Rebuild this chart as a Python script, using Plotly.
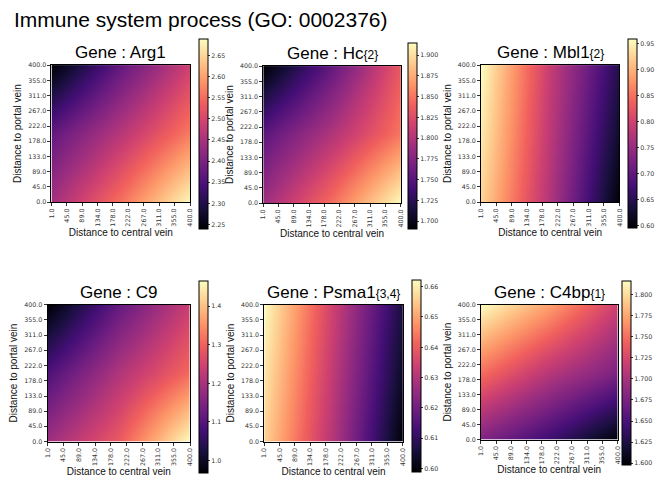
import plotly.graph_objects as go

W, H = 668, 483

# ---- data ----
x_grid = [1, 200, 400]          # distance to central vein
y_grid = [0, 200, 400]          # distance to portal vein
x_ticks = [1, 45, 89, 134, 178, 222, 267, 311, 355, 400]
y_ticks = [0, 45, 89, 133, 178, 222, 267, 311, 355, 400]

genes = ["Arg1", "Hc", "Mbl1", "C9", "Psma1", "C4bp"]
gene_tags = ["", "{2}", "{2}", "", "{3,4}", "{1}"]

# rows: y = 0, 200, 400 ; columns: x = 1, 200, 400
z_arg1 = [[2.445, 2.555, 2.685],
          [2.370, 2.465, 2.565],
          [2.238, 2.372, 2.490]]
z_hc = [[1.790, 1.847, 1.914],
        [1.753, 1.800, 1.851],
        [1.690, 1.757, 1.835]]
z_mbl1 = [[0.925, 0.772, 0.595],
          [0.943, 0.782, 0.622],
          [0.958, 0.790, 0.645]]
z_c9 = [[1.190, 1.290, 1.465],
        [1.090, 1.210, 1.310],
        [0.968, 1.117, 1.240]]
z_psma1 = [[0.656, 0.630, 0.599],
           [0.659, 0.632, 0.603],
           [0.662, 0.634, 0.606]]
z_c4bp = [[1.678, 1.643, 1.600],
          [1.750, 1.708, 1.676],
          [1.816, 1.773, 1.719]]
z_all = [z_arg1, z_hc, z_mbl1, z_c9, z_psma1, z_c4bp]

z_min = [2.238, 1.690, 0.595, 0.968, 0.5989, 1.598]
z_max = [2.688, 1.914, 0.958, 1.465, 0.6622, 1.816]
cb_tick0 = [2.25, 1.700, 0.60, 1.0, 0.60, 1.600]
cb_dtick = [0.05, 0.025, 0.05, 0.1, 0.01, 0.025]
cb_fmt = [".2f", ".3f", ".2f", ".1f", ".2f", ".3f"]

# ---- layout geometry (pixels) ----
hm_box = [  # left, right, top, bottom
    (48, 188, 62, 201),
    (262, 401, 63, 202),
    (482, 622, 62, 201),
    (44, 188, 305, 444),
    (263, 403, 305, 444),
    (482, 620, 305, 442),
]
cb_box = [  # left, right, top, bottom
    (197, 206, 36, 226),
    (408, 417, 40, 226),
    (631, 640, 36, 225),
    (197, 206, 281, 473),
    (412, 421, 280, 472),
    (625, 634, 281, 465),
]


def fx(p):
    return p / W


def fy(p):
    return 1 - p / H


fig = go.Figure()
annotations = []
layout_axes = {}
tick_font = dict(family="DejaVu Sans", size=6.3, color="#333")
lab_font = dict(family="Liberation Sans", size=10, color="#111")

for i in range(6):
    n = i + 1
    xa = "x" if n == 1 else f"x{n}"
    ya = "y" if n == 1 else f"y{n}"
    l, r, t, b = hm_box[i]
    cl, cr, ct, cbm = cb_box[i]
    fig.add_trace(go.Heatmap(
        x=x_grid, y=y_grid, z=z_all[i],
        colorscale="Magma", zmin=z_min[i], zmax=z_max[i],
        zsmooth="best", xaxis=xa, yaxis=ya,
        colorbar=dict(
            x=fx(cl), xanchor="left", xref="paper",
            y=fy(ct), yanchor="top", yref="paper",
            len=cbm - ct, lenmode="pixels",
            thickness=cr - cl, thicknessmode="pixels",
            xpad=0, ypad=0,
            outlinewidth=1, outlinecolor="black",
            ticks="outside", ticklen=2, tickwidth=1, tickcolor="#333",
            tick0=cb_tick0[i], dtick=cb_dtick[i], tickformat=cb_fmt[i],
            tickfont=tick_font,
        ),
    ))
    axk = "xaxis" if n == 1 else f"xaxis{n}"
    ayk = "yaxis" if n == 1 else f"yaxis{n}"
    layout_axes[axk] = dict(
        domain=[fx(l), fx(r)], anchor=ya, range=[1, 400],
        tickvals=x_ticks, ticktext=[f"{v:.1f}" for v in x_ticks],
        tickangle=-90, ticks="outside", ticklen=3, tickcolor="#333",
        tickfont=tick_font, showline=True, linecolor="black", linewidth=1,
        mirror=True, showgrid=False, zeroline=False,
        title=dict(text="Distance to central vein", font=lab_font, standoff=2),
    )
    layout_axes[ayk] = dict(
        domain=[fy(b), fy(t)], anchor=xa, range=[0, 400],
        tickvals=y_ticks, ticktext=[f"{v:.1f}" for v in y_ticks],
        ticks="outside", ticklen=3, tickcolor="#333",
        tickfont=tick_font, showline=True, linecolor="black", linewidth=1,
        mirror=True, showgrid=False, zeroline=False,
        title=dict(text="Distance to portal vein", font=lab_font, standoff=4),
    )
    tag = (f"<span style='font-size:12px'>{gene_tags[i]}</span>"
           if gene_tags[i] else "")
    annotations.append(dict(
        text=f"Gene : {genes[i]}{tag}", x=fx((l + r) / 2), y=fy(t - 1),
        xref="paper", yref="paper", xanchor="center", yanchor="bottom",
        showarrow=False,
        font=dict(family="Liberation Sans", size=17, color="black"),
    ))

annotations.append(dict(
    text="Immune system process (GO: 0002376)", x=fx(8), y=fy(2),
    xref="paper", yref="paper", xanchor="left", yanchor="top",
    showarrow=False,
    font=dict(family="Liberation Sans", size=21, color="black"),
))

fig.update_layout(
    width=W, height=H, margin=dict(l=0, r=0, t=0, b=0),
    paper_bgcolor="white", plot_bgcolor="white",
    annotations=annotations, **layout_axes,
)

fig.write_html("out.html")
